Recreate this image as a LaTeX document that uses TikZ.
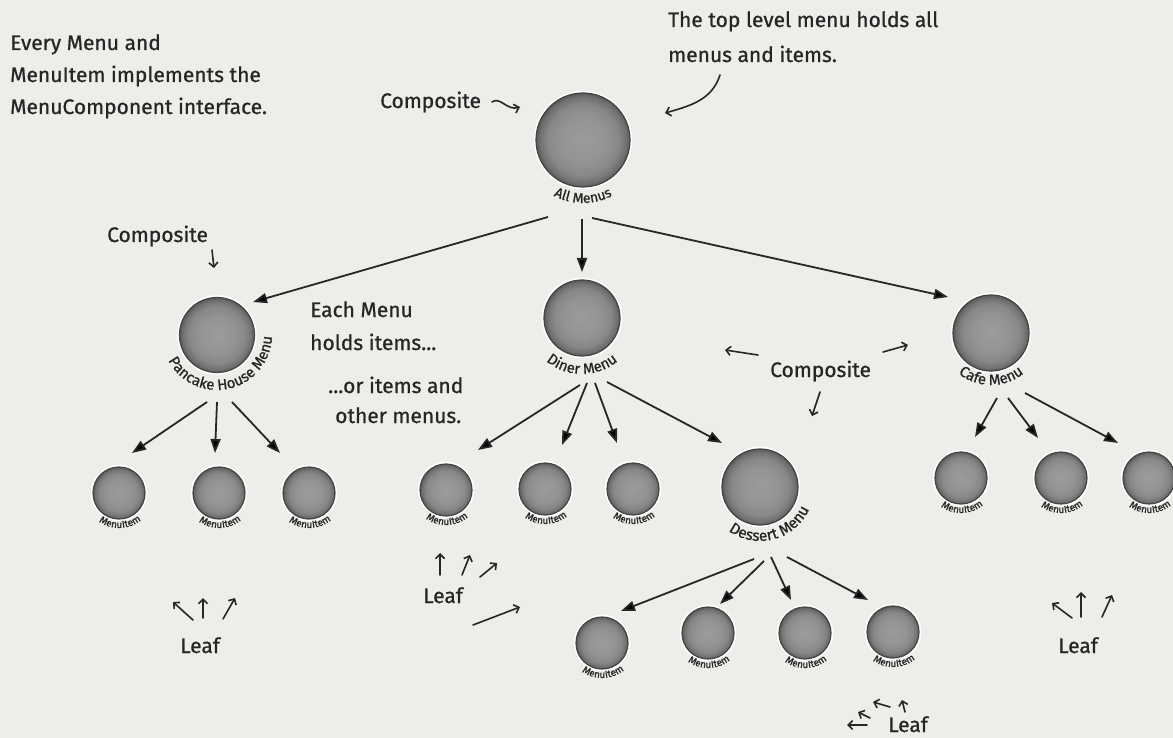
\documentclass[tikz,border=0pt]{standalone}
\usepackage{fontspec}
\setmainfont{Fira Sans}
\newfontfamily\handfont{Fira Sans}[FakeBold=0.8]
\usetikzlibrary{arrows.meta,calc,decorations.text}
\definecolor{bg}{HTML}{EEEDE9}
\definecolor{ink}{HTML}{262626}
\definecolor{rim}{HTML}{444444}
\pgfdeclareradialshading{menuball}{\pgfpoint{0bp}{0bp}}{rgb(0bp)=(0.61,0.61,0.61); rgb(12bp)=(0.58,0.58,0.58); rgb(19bp)=(0.53,0.53,0.53); rgb(23bp)=(0.44,0.44,0.44); rgb(25bp)=(0.35,0.35,0.35); rgb(50bp)=(0.35,0.35,0.35)}
\newcommand\arclabel[5]{\path[decorate,decoration={text along path,text align=center,text color=ink,text={|\handfont\fontsize{#4}{#4}\selectfont|#5}}] ($(#1)+({#3-90}:#2pt)$) arc[start angle={#3-90},end angle={#3+90},radius=#2pt];}
\tikzset{
  ball/.style={circle,inner sep=0pt,minimum size=#1,shade,shading=menuball,draw=rim,line width=1.2pt,preaction={draw=white,line width=4.5pt}},
  link/.style={draw=ink,line width=1.8pt,-{Triangle[length=14pt,width=10pt]}},
  hand/.style={draw=ink,line width=1.6pt,line cap=round,-{Straight Barb[length=4.5pt,width=9pt]}},
  note/.style={text=ink,font=\handfont\fontsize{21}{25}\selectfont,inner sep=0pt,anchor=base west}
}
\begin{document}
\begin{tikzpicture}[x=1pt,y=1pt]
\fill[bg] (0,0) rectangle (1173,-738);
\useasboundingbox (0,0) rectangle (1173,-738);

% circles
\node[ball=94pt] (all) at (583,-140) {};
\node[ball=75pt] (pancake) at (217,-335) {};
\node[ball=76pt] (diner) at (582,-318) {};
\node[ball=76pt] (cafe) at (991,-333) {};
\node[ball=76pt] (dessert) at (760,-487) {};
\node[ball=52pt] (pi1) at (119,-493) {};
\node[ball=52pt] (pi2) at (219,-493) {};
\node[ball=52pt] (pi3) at (309,-493) {};
\node[ball=52pt] (di1) at (446,-490) {};
\node[ball=52pt] (di2) at (545,-489) {};
\node[ball=52pt] (di3) at (633,-489) {};
\node[ball=52pt] (ci1) at (961,-478) {};
\node[ball=52pt] (ci2) at (1061,-478) {};
\node[ball=52pt] (ci3) at (1149,-478) {};
\node[ball=52pt] (de1) at (602,-643) {};
\node[ball=52pt] (de2) at (708,-633) {};
\node[ball=52pt] (de3) at (805,-633) {};
\node[ball=52pt] (de4) at (893,-632) {};

% curved labels
\arclabel{all}{63}{270}{14}{All Menus}
\arclabel{pancake}{55}{283}{15}{Pancake House Menu}
\arclabel{diner}{56}{270}{15}{Diner Menu}
\arclabel{cafe}{52}{270}{15}{Cafe Menu}
\arclabel{dessert}{54}{285}{15.5}{Dessert Menu}
\foreach \n in {pi1,pi2,pi3,di1,di2,di3,ci1,ci2,ci3,de1,de2,de3,de4}{\arclabel{\n}{35}{272}{10}{MenuItem}}

% connectors
\draw[link] ($(all)+(-35,-77)$) -- ($(pancake)+(36,33)$);
\draw[link] ($(all)+(-1,-79)$) -- ($(diner)+(0,46)$);
\draw[link] ($(all)+(9,-78)$) -- ($(cafe)+(-43,36)$);
\draw[link] ($(pancake)+(-10,-67)$) -- ($(pi1)+(13,40)$);
\draw[link] ($(pancake)+(0,-67)$) -- ($(pi2)+(-4,40)$);
\draw[link] ($(pancake)+(15,-67)$) -- ($(pi3)+(-29,40)$);
\draw[link] ($(diner)+(-2,-67)$) -- ($(di1)+(32,40)$);
\draw[link] ($(diner)+(5,-65)$) -- ($(di2)+(17,44)$);
\draw[link] ($(diner)+(13,-65)$) -- ($(di3)+(-16,46)$);
\draw[link] ($(diner)+(25,-64)$) -- ($(dessert)+(-38,44)$);
\draw[link] ($(cafe)+(6,-65)$) -- ($(ci1)+(14,41)$);
\draw[link] ($(cafe)+(17,-65)$) -- ($(ci2)+(-23,40)$);
\draw[link] ($(cafe)+(34,-60)$) -- ($(ci3)+(-31,35)$);
\draw[link] ($(dessert)+(-6,-72)$) -- ($(de1)+(19,32)$);
\draw[link] ($(dessert)+(4,-74)$) -- ($(de2)+(12,29)$);
\draw[link] ($(dessert)+(11,-70)$) -- ($(de3)+(-14,33)$);
\draw[link] ($(dessert)+(27,-70)$) -- ($(de4)+(-25,32)$);

% annotations
\node[note] (tl1) at (10,-50) {Every Menu and};
\node[note] (tl2) at (10,-82) {MenuItem implements the};
\node[note] (tl3) at (10,-114) {MenuComponent interface.};
\node[note] (comp1) at (380,-108) {Composite};
\node[note] (top1) at (668,-27) {The top level menu holds all};
\node[note] (top2) at (668,-62) {menus and items.};
\node[note] (comp2) at (107,-242) {Composite};
\node[note] (each1) at (310,-317) {Each Menu};
\node[note] (each2) at (310,-350) {holds items...};
\node[note] (or1) at (328,-393) {...or items and};
\node[note] (or2) at (335,-423) {other menus.};
\node[note] (comp3) at (770,-377) {Composite};
\node[note] (leaf1) at (180,-653) {Leaf};
\node[note] (leaf2) at (423,-603) {Leaf};
\node[note] (leaf3) at (1058,-653) {Leaf};
\node[note] (leaf4) at (888,-732) {Leaf};

\draw[hand] (492,-102) coordinate (h1a) .. controls (500,-96) and (507,-111) .. (520,-107) coordinate (h1b);
\draw[hand] (720,-75) coordinate (h2a) .. controls (712,-100) and (690,-106) .. (665,-113) coordinate (h2b);
\draw[hand] (212,-250) coordinate (h3a) -- (214,-268) coordinate (h3b);
\draw[hand] (758,-355) coordinate (h4a) -- (725,-350) coordinate (h4b);
\draw[hand] (883,-352) coordinate (h5a) -- (908,-345) coordinate (h5b);
\draw[hand] (820,-392) coordinate (h6a) -- (812,-416) coordinate (h6b);
% leaf 1
\draw[hand] (193,-620) coordinate (l1a) -- (173,-602) coordinate (l1b);
\draw[hand] (203,-618) coordinate (l1c) -- (203,-598) coordinate (l1d);
\draw[hand] (223,-619) coordinate (l1e) -- (235,-598) coordinate (l1f);
% leaf 2
\draw[hand] (440,-575) coordinate (l2a) -- (440,-553) coordinate (l2b);
\draw[hand] (462,-575) coordinate (l2c) -- (470,-555) coordinate (l2d);
\draw[hand] (480,-577) coordinate (l2e) -- (497,-563) coordinate (l2f);
\draw[hand] (473,-625) coordinate (l2g) -- (520,-607) coordinate (l2h);
% leaf 3
\draw[hand] (1072,-618) coordinate (l3a) -- (1052,-603) coordinate (l3b);
\draw[hand] (1081,-617) coordinate (l3c) -- (1081,-592) coordinate (l3d);
\draw[hand] (1102,-617) coordinate (l3e) -- (1112,-595) coordinate (l3f);
% leaf 4
\draw[hand] (867,-725) coordinate (l4a) -- (847,-725) coordinate (l4b);
\draw[hand] (870,-718) coordinate (l4c) -- (858,-712) coordinate (l4d);
\draw[hand] (890,-707) coordinate (l4e) -- (873,-702) coordinate (l4f);
\draw[hand] (905,-712) coordinate (l4g) -- (902,-700) coordinate (l4h);
\end{tikzpicture}
\end{document}
